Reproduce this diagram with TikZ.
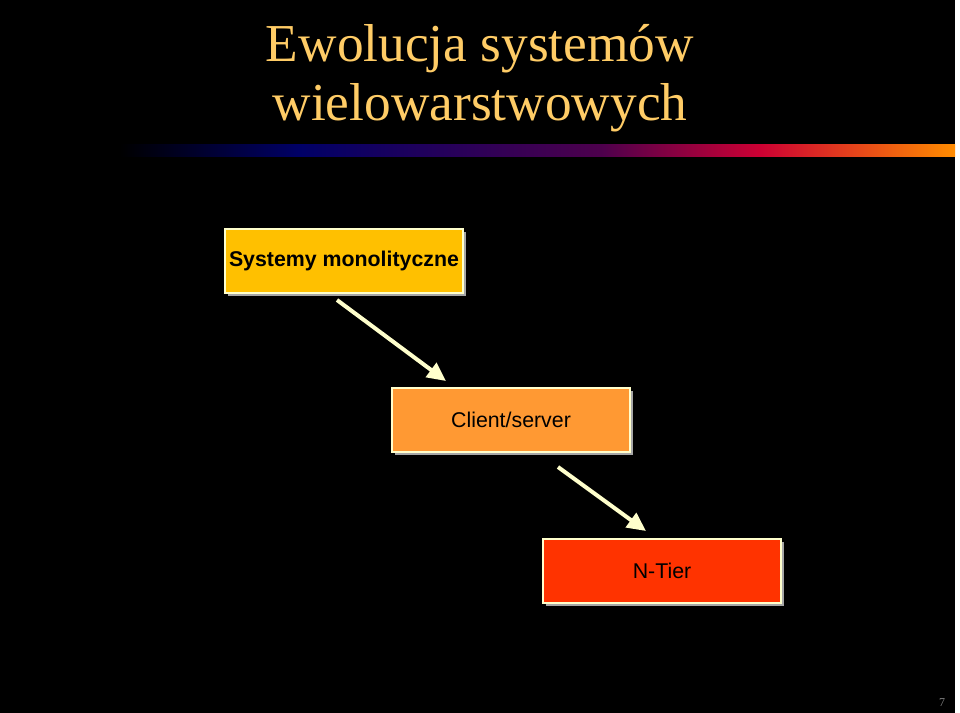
\documentclass[tikz,border=0pt]{standalone}
\usepackage{fontspec}
\setmainfont{Liberation Serif}
\setsansfont{Liberation Sans}
\usetikzlibrary{arrows.meta}
\definecolor{titlec}{HTML}{FFCC66}
\definecolor{cream}{HTML}{FFFFCC}
\newlength{\pxu}\setlength{\pxu}{0.75pt}
\tikzset{
  box/.style={draw=cream,line width=1.2pt,minimum width=238\pxu,minimum height=64\pxu,font=\sffamily\fontsize{16}{18}\selectfont,text=black,inner sep=0pt},
  arr/.style={draw=cream,line width=3pt,-{Triangle[length=14pt,width=13pt]}},
}
\begin{document}
\begin{tikzpicture}[x=0.75pt,y=-0.75pt]
\useasboundingbox (0,0) rectangle (960,713);
\fill[white] (0,0) rectangle (960,713);
\fill[black] (0,0) rectangle (955,713);
\shade[left color=black,right color=blue!40!black] (120,145) rectangle (300,157);
\shade[left color=blue!40!black,right color=violet!60!black] (300,145) rectangle (600,157);
\shade[left color=violet!60!black,right color=purple!80!red] (600,145) rectangle (760,157);
\shade[left color=purple!80!red,right color=orange!90!yellow] (760,145) rectangle (955,157);
\node[font=\fontsize{40}{44}\selectfont,text=titlec,align=center] (title) at (480,78) {Ewolucja systemów\\wielowarstwowych};
\foreach \x/\y in {344/261,511/420,662/571}{
  \fill[gray!70] (\x-119+3,\y-32+3) rectangle (\x+119+3,\y+32+3);
}
\node[box,fill={rgb,255:red,255;green,192;blue,0}] (a) at (344,261) {\textbf{Systemy monolityczne}};
\node[box,fill={rgb,255:red,255;green,153;blue,51}] (b) at (511,420) {Client/server};
\node[box,fill={rgb,255:red,255;green,51;blue,0}] (c) at (662,571) {N-Tier};
\coordinate (a1) at (337,300); \coordinate (a2) at (446,381);
\coordinate (b1) at (558,467); \coordinate (b2) at (646,531);
\draw[arr] (a1) -- (a2);
\draw[arr] (b1) -- (b2);
\node[text=gray,font=\fontsize{9}{10}\selectfont] (pg) at (942,703) {7};
\end{tikzpicture}
\end{document}
